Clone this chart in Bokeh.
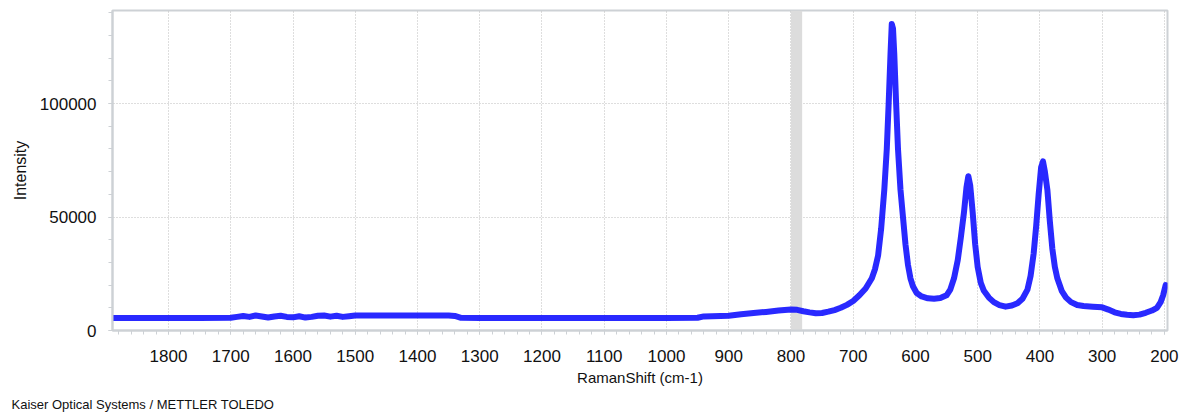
from bokeh.plotting import figure
from bokeh.models import Range1d, BoxAnnotation, FixedTicker, Title, BasicTickFormatter
from bokeh.embed import file_html
from bokeh.resources import INLINE

# Raman shift (cm-1) and intensity
shift = [1890, 1800, 1750, 1700, 1690, 1680, 1670, 1660, 1650, 1640, 1630, 1620,
         1610, 1600, 1590, 1580, 1570, 1560, 1550, 1540, 1530, 1520, 1510, 1500,
         1450, 1400, 1350, 1340, 1330, 1300, 1200, 1100, 1000, 950, 940, 900,
         880, 860, 840, 820, 800, 790, 780, 770, 760, 750, 740, 730, 720, 710,
         700, 690, 680, 670, 665, 660, 655, 650, 646, 643, 640, 638, 636, 634,
         631, 628, 624, 620, 616, 612, 608, 604, 598, 590, 580, 570, 560, 550,
         544, 538, 532, 527, 522, 518, 515, 512, 508, 504, 500, 495, 490, 482,
         474, 465, 455, 445, 436, 428, 420, 415, 410, 406, 402, 398, 395, 392,
         388, 384, 380, 376, 372, 365, 358, 350, 340, 330, 315, 300, 290, 280,
         270, 260, 250, 240, 230, 220, 212, 206, 202, 198]
intensity = [5500, 5500, 5500, 5600, 6000, 6400, 6000, 6600, 6200, 5700, 6200, 6500,
             6000, 5800, 6300, 5700, 6000, 6500, 6600, 6100, 6500, 6000, 6300, 6600,
             6600, 6600, 6600, 6400, 5600, 5500, 5500, 5500, 5500, 5600, 6200, 6500,
             7200, 7700, 8200, 8800, 9300, 9100, 8500, 8000, 7600, 7700, 8300, 9000, 10000, 11300,
             13000, 15500, 18500, 23000, 27000, 33000, 45000, 62000, 80000, 100000, 122000, 135000, 133000, 122000,
             100000, 80000, 62000, 50000, 38000, 29000, 23000, 19500, 16500, 15000, 14200, 14000, 14300, 15500,
             18000, 23000, 31000, 41000, 52000, 63000, 68000, 64000, 52000, 38000, 28000, 21000, 17500, 14500,
             12500, 11200, 10500, 11000, 12000, 14000, 18000, 24000, 34000, 46000, 60000, 72000, 74500, 70000,
             62000, 48000, 36000, 28000, 23000, 17500, 14500, 12500, 11200, 10800, 10500, 10200, 9200, 8000,
             7300, 6900, 6700, 7000, 7800, 8800, 10000, 12500, 15500, 20000]

x_ticks = [1800, 1700, 1600, 1500, 1400, 1300, 1200, 1100, 1000, 900, 800, 700, 600, 500, 400, 300, 200]
y_ticks = [0, 50000, 100000]
band = [782, 800]

FONT = "Liberation Sans"
GRAY = "#cdd1d5"

p = figure(width=1195, height=419, output_backend="svg", toolbar_location=None,
           x_range=Range1d(1890, 195), y_range=Range1d(0, 141000),
           min_border_left=112, min_border_right=28, min_border_top=10, min_border_bottom=89)

p.add_layout(BoxAnnotation(left=band[0], right=band[1], fill_color="#dcdcdc", fill_alpha=1.0,
                           line_color=None, level="underlay"))

p.line(shift, intensity, line_color="#1212ff", line_width=6, line_alpha=0.9,
       line_join="round", line_cap="round")

p.xaxis.ticker = FixedTicker(ticks=x_ticks, minor_ticks=list(range(200, 1900, 20)))
p.yaxis.ticker = FixedTicker(ticks=y_ticks, minor_ticks=list(range(0, 141000, 10000)))
p.yaxis.formatter = BasicTickFormatter(use_scientific=False)

for ax in (p.xaxis[0], p.yaxis[0]):
    ax.axis_line_color = GRAY
    ax.axis_line_width = 2
    ax.major_tick_line_color = GRAY
    ax.minor_tick_line_color = GRAY
    ax.major_tick_out = 4
    ax.major_tick_in = 0
    ax.minor_tick_out = 4
    ax.minor_tick_in = 0
    ax.major_label_text_font = FONT
    ax.major_label_text_font_size = "17px"
    ax.major_label_text_color = "#111111"
    ax.axis_label_text_font = FONT
    ax.axis_label_text_font_style = "normal"
    ax.axis_label_text_color = "#111111"

p.xaxis.axis_label = "RamanShift (cm-1)"
p.yaxis.axis_label = "Intensity"
p.xaxis.axis_label_text_font_size = "15px"
p.yaxis.axis_label_text_font_size = "16px"
p.xaxis.major_label_standoff = 15
p.xaxis.axis_label_standoff = 4
p.yaxis.major_label_standoff = 12
p.yaxis.axis_label_standoff = 8

p.xgrid.grid_line_color = "#bdbdbd"
p.xgrid.grid_line_dash = "1 2"
p.ygrid.grid_line_color = "#bdbdbd"
p.ygrid.grid_line_dash = "1 2"

p.outline_line_color = GRAY
p.outline_line_width = 2
p.background_fill_color = "white"
p.border_fill_color = "white"

footer = Title(text="Kaiser Optical Systems / METTLER TOLEDO", align="left", offset=-101,
               text_font="Liberation Sans", text_font_size="13px", text_font_style="normal",
               text_color="#111111", standoff=12)
p.add_layout(footer, "below")

open("out.html", "w").write(file_html(p, INLINE))
